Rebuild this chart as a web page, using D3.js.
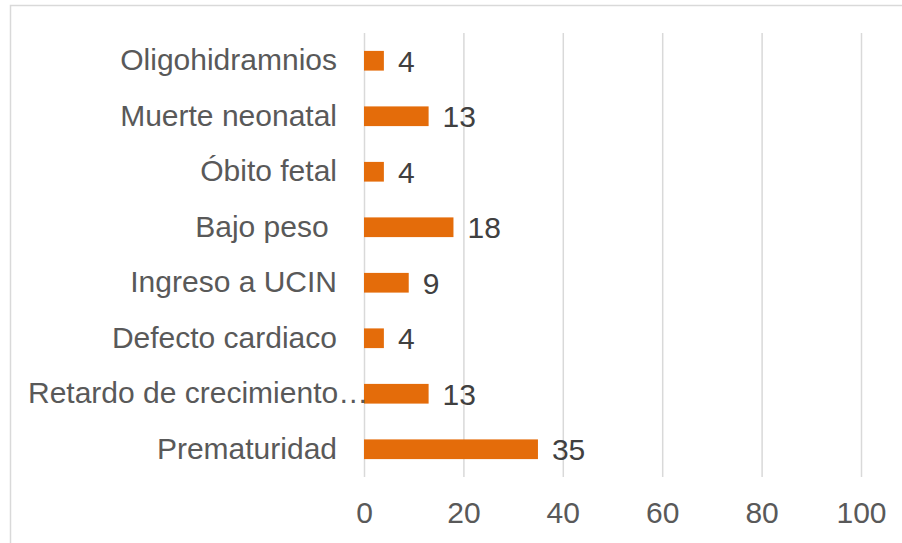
<!DOCTYPE html>
<html>
<head>
<meta charset="utf-8">
<script src="https://cdn.jsdelivr.net/npm/d3@7"></script>
<style>
  body { margin: 0; background: #fff; }
  svg { display: block; font-family: "Liberation Sans", Arial, sans-serif; }
</style>
</head>
<body>
<svg id="chart" width="902" height="543"></svg>
<script>
// categories from top to bottom
const categories = [
  'Oligohidramnios',
  'Muerte neonatal',
  'Óbito fetal',
  'Bajo peso\u00a0',
  'Ingreso a UCIN',
  'Defecto cardiaco',
  'Retardo de crecimiento…',
  'Prematuridad',
];
const values = [4, 13, 4, 18, 9, 4, 13, 35];
const xTicks = [0, 20, 40, 60, 80, 100];

const width = 902;
const height = 543;
const margin = { top: 33, right: 41, bottom: 66, left: 364 };
const innerWidth = width - margin.left - margin.right;
const innerHeight = height - margin.top - margin.bottom;
const fontSize = '30px';

const data = categories.map((c, i) => ({ category: c, value: values[i] }));

const svg = d3.select('#chart');

// chart area border (runs off the right and bottom edges)
svg.append('path')
  .attr('d', `M10.5,${height}V5.5H${width}`)
  .attr('fill', 'none')
  .attr('stroke', '#d9d9d9')
  .attr('stroke-width', 1.5);

const xScale = d3.scaleLinear()
  .domain([0, 100])
  .range([0, innerWidth]);

const yScale = d3.scaleBand()
  .domain(categories)
  .range([0, innerHeight])
  .paddingInner(0.645)
  .paddingOuter(0.3225);

const g = svg.append('g')
  .attr('transform', `translate(${margin.left},${margin.top})`);

// vertical gridlines + tick labels
const xAxis = g.append('g')
  .attr('class', 'x-axis')
  .attr('transform', `translate(0,${innerHeight})`)
  .call(d3.axisBottom(xScale)
    .tickValues(xTicks)
    .tickSize(-innerHeight)
    .tickPadding(25));

xAxis.select('.domain').remove();
xAxis.selectAll('.tick line').attr('stroke', '#d9d9d9').attr('stroke-width', 1.5);
xAxis.selectAll('.tick text')
  .attr('fill', '#595959')
  .style('font-size', fontSize)
  .style('font-family', '"Liberation Sans", Arial, sans-serif');

// bars
g.append('g')
  .selectAll('rect')
  .data(data)
  .join('rect')
  .attr('x', xScale(0))
  .attr('y', d => yScale(d.category))
  .attr('width', d => xScale(d.value) - xScale(0))
  .attr('height', yScale.bandwidth())
  .attr('fill', '#e46c0a');

// value labels
g.append('g')
  .selectAll('text')
  .data(data)
  .join('text')
  .attr('x', d => xScale(d.value) + 14)
  .attr('y', d => yScale(d.category) + yScale.bandwidth() / 2)
  .attr('dy', '0.36em')
  .attr('fill', '#404040')
  .style('font-size', fontSize)
  .text(d => d.value);

// category labels
const yAxis = g.append('g')
  .attr('class', 'y-axis')
  .call(d3.axisLeft(yScale).tickSize(0).tickPadding(27));

yAxis.select('.domain').remove();
yAxis.selectAll('.tick text')
  .attr('fill', '#595959')
  .style('font-size', fontSize)
  .style('font-family', '"Liberation Sans", Arial, sans-serif');

// the truncated label starts near the left border and runs up to the axis
yAxis.selectAll('.tick text')
  .filter(d => d.endsWith('…'))
  .attr('text-anchor', 'start')
  .attr('x', 28 - margin.left);
</script>
</body>
</html>
